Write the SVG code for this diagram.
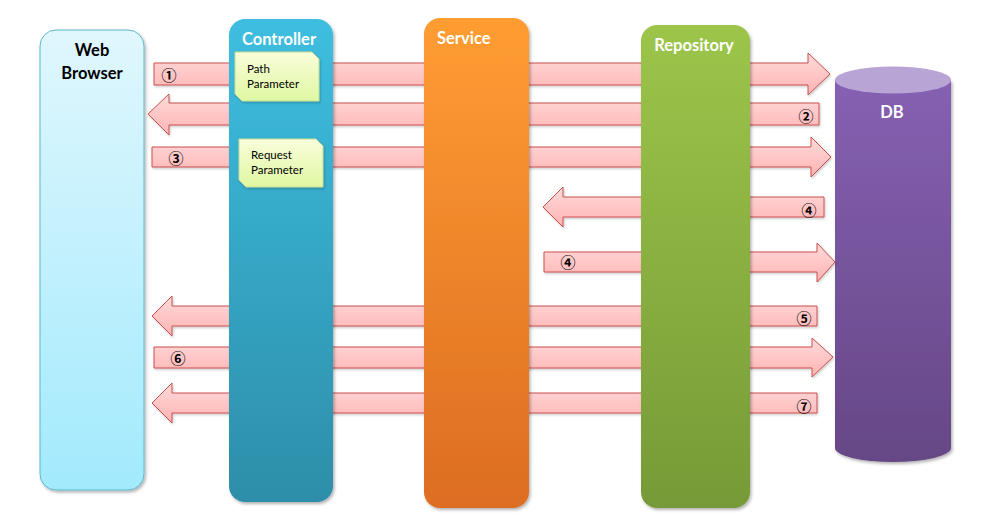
<svg xmlns="http://www.w3.org/2000/svg" width="983" height="531" viewBox="0 0 983 531">
<defs>
  <linearGradient id="gBrowser" x1="0" y1="0" x2="0" y2="1"><stop offset="0" stop-color="#e0f7fd"/><stop offset="1" stop-color="#a2eafd"/></linearGradient>
  <linearGradient id="gCtrl" x1="0" y1="0" x2="0" y2="1"><stop offset="0" stop-color="#3dbee0"/><stop offset="1" stop-color="#2d8ea9"/></linearGradient>
  <linearGradient id="gSvc" x1="0" y1="0" x2="0" y2="1"><stop offset="0" stop-color="#ff9d33"/><stop offset="1" stop-color="#dc6d22"/></linearGradient>
  <linearGradient id="gRepo" x1="0" y1="0" x2="0" y2="1"><stop offset="0" stop-color="#9cc54a"/><stop offset="1" stop-color="#769a37"/></linearGradient>
  <linearGradient id="gDB" x1="0" y1="0" x2="0" y2="1"><stop offset="0" stop-color="#8660b2"/><stop offset="1" stop-color="#664786"/></linearGradient>
  <linearGradient id="gArrow" x1="0" y1="0" x2="0" y2="1"><stop offset="0" stop-color="#ffdada"/><stop offset="1" stop-color="#ffb3b3"/></linearGradient>
  <linearGradient id="gNote" x1="0" y1="0" x2="0" y2="1"><stop offset="0" stop-color="#f9fdda"/><stop offset="1" stop-color="#dff8a2"/></linearGradient>
  <filter id="shadow" x="-10%" y="-5%" width="125%" height="115%">
    <feDropShadow dx="1.5" dy="2" stdDeviation="1.5" flood-color="#000" flood-opacity="0.3"/>
  </filter>
  <filter id="shadowS" x="-5%" y="-20%" width="110%" height="150%">
    <feDropShadow dx="1" dy="1.5" stdDeviation="1" flood-color="#000" flood-opacity="0.2"/>
  </filter>
</defs>
<style>
  .title { font-family: Lato, "Liberation Sans", sans-serif; font-weight: bold; font-size: 16.5px; }
  .white { fill: #ffffff; }
  .black { fill: #000000; }
  .arrow { fill: url(#gArrow); stroke: #c9504e; stroke-width: 1; filter: url(#shadowS); }
  .num { font-family: "Noto Sans CJK JP", "DejaVu Sans", sans-serif; font-size: 15px; font-weight: bold; fill: #000; text-anchor: middle; dominant-baseline: central; }
  .note { fill: url(#gNote); stroke: #c8dc98; stroke-width: 1; filter: url(#shadowS); }
  .noteText { font-family: Lato, "Liberation Sans", sans-serif; font-size: 11.5px; fill: #000; }
</style>
<rect width="983" height="531" fill="#ffffff"/>

<g id="browser">
  <rect x="40" y="30" width="104" height="460" rx="16" fill="url(#gBrowser)" stroke="#5cb8cf" stroke-width="1" filter="url(#shadow)"/>
  <text class="title black" x="92" y="56" text-anchor="middle" font-size="17">Web</text>
  <text class="title black" x="92" y="79" text-anchor="middle" font-size="17">Browser</text>
</g>

<g id="db">
  <path d="M835,80 V448 A58,14 0 0 0 951,448 V80 Z" fill="url(#gDB)" filter="url(#shadow)"/>
  <ellipse cx="893" cy="80" rx="58" ry="13.5" fill="#b9a4d6"/>
  <text class="title white" x="892" y="118" text-anchor="middle" font-size="18">DB</text>
</g>

<g id="connectors">
  <path class="arrow" d="M154,63 H808 V53 L830,74 L808,95 V85 H154 Z"/>
  <path class="arrow" d="M819,103 H169 V94 L148,114 L169,135 V125 H819 Z"/>
  <path class="arrow" d="M152,147 H811 V137 L831,157 L811,177 V167 H152 Z"/>
  <path class="arrow" d="M824,197 H563 V187 L543,207 L563,227 V217 H824 Z"/>
  <path class="arrow" d="M544,252 H817 V243 L835,262 L817,282 V272 H544 Z"/>
  <path class="arrow" d="M817,306 H172 V296 L152,316 L172,336 V326 H817 Z"/>
  <path class="arrow" d="M154,347 H812 V338 L833,357 L812,377 V368 H154 Z"/>
  <path class="arrow" d="M817,393 H172 V383 L152,403 L172,423 V413 H817 Z"/>
  <text class="num" x="169" y="74">①</text>
  <text class="num" x="806" y="115">②</text>
  <text class="num" x="176" y="157">③</text>
  <text class="num" x="809" y="209">④</text>
  <text class="num" x="568" y="261">④</text>
  <text class="num" x="804" y="317">⑤</text>
  <text class="num" x="178" y="357">⑥</text>
  <text class="num" x="804" y="405">⑦</text>
</g>

<g id="controller">
  <rect x="229" y="19" width="104" height="483" rx="16" fill="url(#gCtrl)" filter="url(#shadow)"/>
  <text class="title white" x="279" y="45" text-anchor="middle">Controller</text>
</g>

<g id="path-parameter">
  <path class="note" d="M235,52 H312 L319,59 V101 H242 L235,94 Z"/>
  <text class="noteText" x="247" y="73">Path</text>
  <text class="noteText" x="247" y="88">Parameter</text>
</g>

<g id="request-parameter">
  <path class="note" d="M239,139 H316 L323,146 V187 H246 L239,180 Z"/>
  <text class="noteText" x="251" y="159">Request</text>
  <text class="noteText" x="251" y="174">Parameter</text>
</g>

<g id="service">
  <rect x="424" y="18" width="105" height="490" rx="16" fill="url(#gSvc)" filter="url(#shadow)"/>
  <text class="title white" x="437" y="44">Service</text>
</g>

<g id="repository">
  <rect x="641" y="25" width="109" height="483" rx="16" fill="url(#gRepo)" filter="url(#shadow)"/>
  <text class="title white" x="694" y="51" text-anchor="middle">Repository</text>
</g>
</svg>
